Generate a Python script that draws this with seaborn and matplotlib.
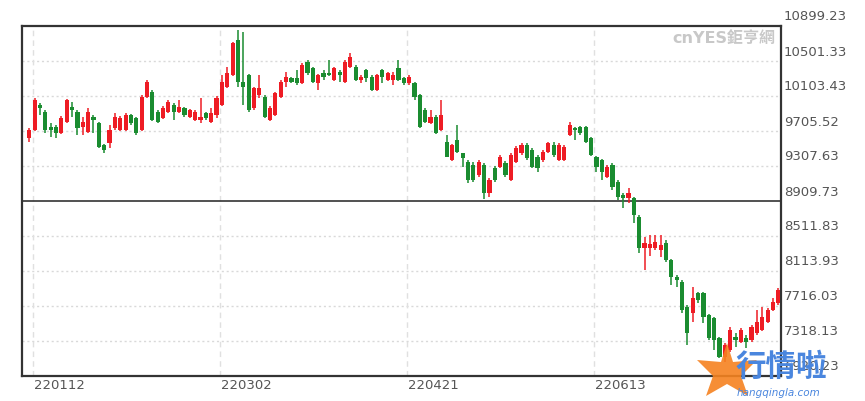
import numpy as np
import matplotlib
matplotlib.use('Agg')
import matplotlib.pyplot as plt
import matplotlib.transforms as mtransforms
from matplotlib.patches import Polygon
import seaborn as sns

# daily OHLC (index 0 = first candle)
opens = [9622, 9717, 10001, 9925, 9754, 9754, 9683, 9811, 9982, 9925,
         9754, 9698, 9868, 9793, 9546, 9566, 9736, 9717, 9717, 9887,
         9853, 9717, 10095, 10152, 9925, 9853, 9925, 10001, 9925, 9967,
         9868, 9831, 9831, 9910, 9811, 9890, 10001, 10209, 10342, 10740,
         10266, 10342, 9964, 10115, 10095, 9831, 9887, 10095, 10266, 10305,
         10305, 10248, 10493, 10418, 10248, 10362, 10368, 10285, 10380, 10266,
         10437, 10437, 10285, 10399, 10323, 10172, 10399, 10285, 10285, 10418,
         10305, 10248, 10248, 10115, 9944, 9793, 9868, 9717, 9584, 9376,
         9603, 9455, 9357, 9319, 9205, 9319, 8997, 9285, 9300, 9342,
         9148, 9357, 9455, 9546, 9490, 9413, 9376, 9470, 9546, 9376,
         9376, 9660, 9740, 9754, 9754, 9622, 9410, 9376, 9186, 9319,
         9129, 8977, 8940, 8940, 8731, 8372, 8372, 8372, 8353, 8429,
         8239, 8049, 7992, 7708, 7633, 7860, 7860, 7614, 7576, 7349,
         7136, 7216, 7367, 7310, 7349, 7330, 7406, 7443, 7538, 7671,
         7747]
highs = [9736, 10081, 10024, 9944, 9797, 9774, 9876, 10069, 10039, 9944,
         9868, 9967, 9887, 9808, 9558, 9774, 9910, 9876, 9910, 9899,
         9865, 10115, 10285, 10172, 9944, 9990, 10058, 10024, 10058, 9978,
         9956, 9944, 10081, 9922, 9967, 10103, 10342, 10437, 10721, 10854,
         10834, 10354, 10206, 10342, 10115, 9990, 10149, 10285, 10380, 10319,
         10399, 10479, 10513, 10433, 10354, 10399, 10513, 10433, 10399, 10513,
         10592, 10456, 10342, 10410, 10342, 10354, 10410, 10376, 10380, 10513,
         10319, 10342, 10263, 10126, 9967, 9944, 9887, 10058, 9660, 9558,
         9774, 9459, 9376, 9353, 9376, 9342, 9171, 9308, 9433, 9364,
         9455, 9535, 9569, 9569, 9512, 9433, 9490, 9584, 9584, 9569,
         9546, 9811, 9751, 9762, 9762, 9637, 9421, 9387, 9319, 9342,
         9148, 9000, 9058, 8955, 8751, 8504, 8523, 8523, 8523, 8466,
         8250, 8068, 8012, 7727, 7935, 7875, 7875, 7625, 7591, 7364,
         7295, 7478, 7409, 7466, 7386, 7500, 7671, 7708, 7693, 7807,
         7916]
lows = [9584, 9706, 9887, 9683, 9641, 9626, 9672, 9797, 9868, 9660,
        9660, 9683, 9683, 9512, 9452, 9512, 9717, 9706, 9706, 9774,
        9660, 9706, 10081, 9819, 9797, 9842, 9910, 9831, 9910, 9865,
        9853, 9819, 9797, 9831, 9797, 9853, 9990, 10194, 10331, 10209,
        10001, 9921, 9944, 10081, 9853, 9819, 9876, 10081, 10209, 10248,
        10229, 10240, 10342, 10251, 10172, 10285, 10331, 10274, 10266, 10251,
        10422, 10274, 10248, 10266, 10160, 10160, 10251, 10274, 10229, 10274,
        10229, 10229, 10058, 9740, 9797, 9785, 9672, 9706, 9410, 9364,
        9459, 9296, 9114, 9126, 9183, 8932, 8959, 9126, 9285, 9183,
        9137, 9342, 9433, 9376, 9285, 9239, 9353, 9455, 9410, 9364,
        9364, 9649, 9603, 9660, 9569, 9421, 9239, 9148, 9171, 9035,
        8922, 8830, 8888, 8660, 8319, 8125, 8284, 8353, 8277, 8216,
        7955, 7935, 7636, 7273, 7538, 7754, 7523, 7330, 7216, 7125,
        7079, 7193, 7253, 7295, 7239, 7307, 7386, 7432, 7523, 7659,
        7727]
closes = [9717, 10058, 9964, 9717, 9717, 9679, 9853, 10058, 9944, 9736,
          9811, 9925, 9831, 9527, 9490, 9717, 9868, 9853, 9887, 9793,
          9679, 10095, 10266, 9831, 9811, 9967, 10039, 9925, 9982, 9887,
          9944, 9925, 9868, 9853, 9910, 10081, 10266, 10365, 10706, 10266,
          10209, 9944, 10191, 10191, 9868, 9964, 10134, 10266, 10323, 10266,
          10248, 10456, 10362, 10266, 10342, 10323, 10342, 10418, 10342, 10493,
          10550, 10285, 10323, 10305, 10172, 10342, 10323, 10362, 10342, 10285,
          10248, 10323, 10095, 9754, 9808, 9868, 9679, 9887, 9413, 9546,
          9470, 9399, 9149, 9148, 9357, 8997, 9148, 9148, 9413, 9205,
          9433, 9512, 9546, 9399, 9300, 9282, 9470, 9569, 9433, 9546,
          9527, 9774, 9717, 9679, 9584, 9433, 9296, 9243, 9300, 9072,
          8959, 8940, 8997, 8751, 8372, 8429, 8421, 8447, 8410, 8239,
          8049, 8012, 7671, 7406, 7804, 7789, 7594, 7349, 7330, 7140,
          7273, 7443, 7330, 7443, 7310, 7481, 7538, 7594, 7671, 7765,
          7894]

date_labels = ['220112', '220302', '220421', '220613']
date_pos = [0.6, 35.6, 70.6, 105.6]
price_ticks = [10899.23, 10501.33, 10103.43, 9705.52, 9307.63, 8909.73,
               8511.83, 8113.93, 7716.03, 7318.13, 6920.23]
ref_price = 8909.73

RED = '#ee1c24'
GREEN = '#1a8c30'

sns.set_theme(style='white')
plt.rcParams['font.family'] = ['DejaVu Sans', 'Noto Sans CJK TC']

W, H = 865, 401
fig = plt.figure(figsize=(W / 100, H / 100), dpi=100)
ax = fig.add_axes([21.7 / W, 1 - 376 / H, (781 - 21.7) / W, (376 - 26) / H])

o = np.array(opens, dtype=float)
h = np.array(highs, dtype=float)
l = np.array(lows, dtype=float)
c = np.array(closes, dtype=float)
x = np.arange(len(o))
colors = np.where(c >= o, RED, GREEN)

# wicks and bodies
ax.vlines(x, l, h, colors=colors, lw=1.1, zorder=3)
body = np.maximum(np.abs(c - o), 12)
ax.bar(x, body, bottom=np.minimum(o, c), width=0.78, color=colors,
       linewidth=0, zorder=4)

ax.set_xlim(-1.42, 140.5)
ax.set_ylim(price_ticks[-1], price_ticks[0])

# grid
for p in price_ticks[1:-1]:
    if p != ref_price:
        ax.axhline(p, color='#d9d9d9', lw=1, ls=(0, (1.5, 2)), zorder=1)
for xp in date_pos:
    ax.axvline(xp, color='#e0e0e0', lw=1, ls=(0, (4, 3)), zorder=1)
ax.axhline(ref_price, color='#333333', lw=1.2, zorder=2)

ax.set_xticks([])
ax.set_yticks([])
for s in ax.spines.values():
    s.set_color('#333333')
    s.set_linewidth(1.6)

# price labels on the right, sitting just above their grid lines
off_y = mtransforms.ScaledTranslation(3 / 100, 9 / 100, fig.dpi_scale_trans)
ytr = ax.get_yaxis_transform() + off_y
for p in price_ticks:
    ax.text(1.0, p, f'{p:.2f}', transform=ytr, ha='left', va='center',
            fontsize=9.5, color='#555555', clip_on=False)

off_x = mtransforms.ScaledTranslation(1 / 100, -3 / 100, fig.dpi_scale_trans)
xtr = ax.get_xaxis_transform() + off_x
for xp, lab in zip(date_pos, date_labels):
    ax.text(xp, 0, lab, transform=xtr, ha='left', va='top',
            fontsize=9.5, color='#555555', clip_on=False)

# watermarks
fig.text(775 / W, 1 - 38 / H, 'cnYES鉅亨網', ha='right', va='center',
         fontsize=11.5, fontweight='bold', color='#c8c8c8')

logo = [(727, 343), (733, 362), (757, 360), (741, 376), (748, 396),
        (727, 384), (706, 396), (713, 376), (697, 360), (721, 362)]
fig.patches.append(Polygon([(px / W, 1 - py / H) for px, py in logo],
                           closed=True, transform=fig.transFigure,
                           facecolor='#f58220', edgecolor='none', alpha=0.9,
                           zorder=10))
fig.text(736 / W, 1 - 367 / H, '行情啦', ha='left', va='center',
         fontsize=22, fontweight='bold', style='italic', color='#4a86de',
         family=['Noto Sans CJK SC'], zorder=11)
fig.text(737 / W, 1 - 393 / H, 'hangqingla.com', ha='left', va='center',
         fontsize=7.5, style='italic', color='#4a86de', zorder=11)

fig.savefig('out.png', dpi=100)
